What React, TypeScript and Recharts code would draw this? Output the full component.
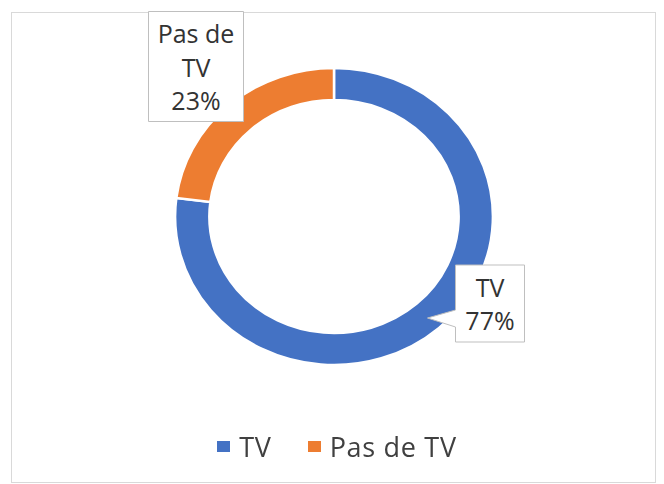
import { PieChart, Pie, Cell, Legend } from 'recharts'

const categories = ['TV', 'Pas de TV']
const shares = [77, 23]
const colors = ['#4472C4', '#ED7D31']
const labelLines = [['TV', '77%'], ['Pas de', 'TV', '23%']]

const data = categories.map((name, i) => ({ name, value: shares[i] }))

// Excel stretched the donut a little horizontally
const STRETCH_X = 1.07

// offsets of the label callouts from the donut centre, with their box size
const labelBoxes = [
  { dx: 156, dy: 87, w: 69, h: 77, tail: true },
  { dx: -138, dy: -150, w: 95, h: 110, tail: false },
]

const FONT = '"Open Sans", sans-serif'

// eslint-disable-next-line @typescript-eslint/no-explicit-any
const EllipseSector = (props: any) => {
  const { cx, cy, innerRadius, outerRadius, startAngle, endAngle, fill } = props
  const pt = (r: number, a: number) => {
    const rad = (-a * Math.PI) / 180
    return [cx + r * STRETCH_X * Math.cos(rad), cy + r * Math.sin(rad)]
  }
  const sweep = endAngle < startAngle ? 1 : 0
  const large = Math.abs(endAngle - startAngle) > 180 ? 1 : 0
  const [x1, y1] = pt(outerRadius, startAngle)
  const [x2, y2] = pt(outerRadius, endAngle)
  const [x3, y3] = pt(innerRadius, endAngle)
  const [x4, y4] = pt(innerRadius, startAngle)
  const d = [
    `M${x1},${y1}`,
    `A${outerRadius * STRETCH_X},${outerRadius} 0 ${large} ${sweep} ${x2},${y2}`,
    `L${x3},${y3}`,
    `A${innerRadius * STRETCH_X},${innerRadius} 0 ${large} ${1 - sweep} ${x4},${y4}`,
    'Z',
  ].join(' ')
  return <path d={d} fill={fill} stroke="#ffffff" strokeWidth={2.5} />
}

// eslint-disable-next-line @typescript-eslint/no-explicit-any
const renderLabel = (props: any) => {
  const { cx, cy, index } = props
  const box = labelBoxes[index]
  const lines = labelLines[index]
  const bx = cx + box.dx - box.w / 2
  const by = cy + box.dy - box.h / 2
  const lineH = 33.5
  const top = cy + box.dy - ((lines.length - 1) * lineH) / 2
  let outline = `M${bx},${by} h${box.w} v${box.h} h${-box.w} Z`
  if (box.tail) {
    outline = `M${bx},${by} h${box.w} v${box.h} h${-box.w} V${by + 62} L${bx - 28},${by + 53} L${bx},${by + 45} Z`
  }
  return (
    <g key={`lbl-${index}`}>
      <path d={outline} fill="#ffffff" stroke="#bfbfbf" strokeWidth={1} />
      {lines.map((t, i) => (
        <text
          key={i}
          x={cx + box.dx}
          y={top + i * lineH}
          textAnchor="middle"
          dominantBaseline="central"
          fontFamily={FONT}
          fontSize={25}
          fill="#333333"
        >
          {t}
        </text>
      ))}
    </g>
  )
}

const renderLegend = () => (
  <div style={{ display: 'flex', justifyContent: 'center', alignItems: 'center', fontFamily: FONT, fontSize: 27, letterSpacing: 0.7, color: '#404040' }}>
    {categories.map((c, i) => (
      <div key={c} style={{ display: 'flex', alignItems: 'center', marginLeft: i ? 36 : 0 }}>
        <span style={{ display: 'inline-block', width: 13, height: 11, background: colors[i], marginRight: 9 }} />
        <span>{c}</span>
      </div>
    ))}
  </div>
)

export default function App() {
  return (
    <div style={{ position: 'fixed', left: 0, top: 0, width: 664, height: 484, background: '#fff' }}>
      <div
        style={{
          position: 'absolute', left: 11, top: 12, width: 645, height: 471,
          border: '1px solid #d9d9d9', boxSizing: 'border-box',
        }}
      />
      <div style={{ position: 'absolute', left: 0, top: 0 }}>
        <PieChart width={664} height={484} margin={{ top: 0, right: 0, bottom: 0, left: 0 }}>
          <Pie
            data={data}
            dataKey="value"
            nameKey="name"
            cx={334}
            cy={216.5}
            innerRadius={116.5}
            outerRadius={148.5}
            startAngle={90}
            endAngle={-270}
            shape={EllipseSector}
            label={renderLabel}
            labelLine={false}
            isAnimationActive={false}
          >
            {data.map((d, i) => (
              <Cell key={d.name} fill={colors[i]} />
            ))}
          </Pie>
          <Legend
            verticalAlign="bottom"
            align="center"
            content={renderLegend}
            wrapperStyle={{ top: 428, left: 5, width: 664 }}
          />
        </PieChart>
      </div>
    </div>
  )
}
